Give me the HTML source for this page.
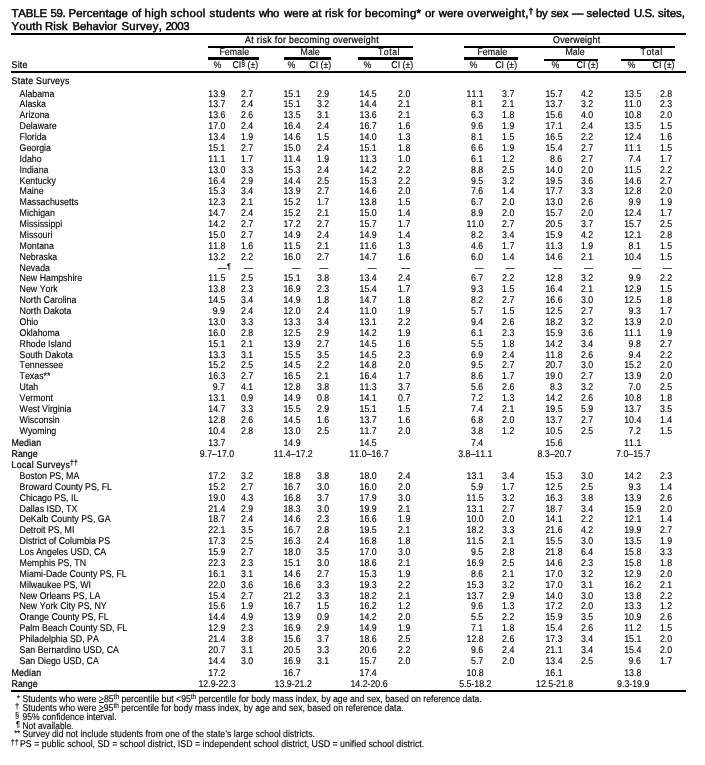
<!DOCTYPE html>
<html lang="en">
<head>
<meta charset="utf-8">
<title>TABLE 59. Percentage of high school students who were at risk for becoming or were overweight</title>
<style>
html,body{margin:0;padding:0;background:#fff}
body{position:relative;width:705px;height:765px;overflow:hidden;font-family:"Liberation Sans",Arial,Helvetica,sans-serif;font-size:9.8px;line-height:10px;color:#000;text-rendering:geometricPrecision;font-kerning:none;font-variant-ligatures:none}
span{position:absolute;left:0;white-space:nowrap;display:block;transform-origin:0 0;-webkit-text-stroke:0.12px #000}
.r{left:auto;right:0;transform-origin:100% 0}
.c{width:80px;text-align:center;transform-origin:50% 0}
i{position:absolute;display:block;background:#000}
.t{font-size:11.4px;line-height:12px;-webkit-text-stroke-width:0.45px}
.b{-webkit-text-stroke-width:0.22px}
sup{font-size:75%;line-height:0;vertical-align:baseline;position:relative;top:-0.42em}
sup.g{font-size:80%;top:-0.22em}
sup.k{font-size:84%;top:-0.24em}
sup.a{font-size:84%;top:-0.1em}
u{text-decoration:underline;text-underline-offset:0.3px;text-decoration-thickness:1.3px}
.t sup{font-size:72%;top:-0.42em}
</style>
</head>
<body>
<div role="heading" aria-level="1">
<span class="t" style="top:8px;transform:translate(11.40px,0) scaleX(1.0);letter-spacing:-0.07px">TABLE </span>
<span class="t" style="top:8px;transform:translate(50.60px,0) scaleX(1.0);letter-spacing:-0.40px">59. </span>
<span class="t" style="top:8px;transform:translate(68.60px,0) scaleX(1.0);letter-spacing:0.12px">Percentage </span>
<span class="t" style="top:8px;transform:translate(132.00px,0) scaleX(1.0);letter-spacing:-0.40px">of </span>
<span class="t" style="top:8px;transform:translate(144.60px,0) scaleX(1.0);letter-spacing:0.28px">high </span>
<span class="t" style="top:8px;transform:translate(170.60px,0) scaleX(1.0);letter-spacing:0.37px">school </span>
<span class="t" style="top:8px;transform:translate(209.60px,0) scaleX(1.0);letter-spacing:0.33px">students </span>
<span class="t" style="top:8px;transform:translate(259.06px,0) scaleX(1.0);letter-spacing:-0.29px">who </span>
<span class="t" style="top:8px;transform:translate(284.06px,0) scaleX(1.0);letter-spacing:0.07px">were </span>
<span class="t" style="top:8px;transform:translate(312.00px,0) scaleX(1.0);letter-spacing:-0.12px">at </span>
<span class="t" style="top:8px;transform:translate(325.00px,0) scaleX(1.0);letter-spacing:0.27px">risk </span>
<span class="t" style="top:8px;transform:translate(347.60px,0) scaleX(1.0);letter-spacing:0.36px">for </span>
<span class="t" style="top:8px;transform:translate(365.00px,0) scaleX(1.0);letter-spacing:0.27px">becoming* </span>
<span class="t" style="top:8px;transform:translate(425.00px,0) scaleX(1.0);letter-spacing:-0.15px">or </span>
<span class="t" style="top:8px;transform:translate(438.66px,0) scaleX(1.0);letter-spacing:0.07px">were </span>
<span class="t" style="top:8px;transform:translate(467.00px,0) scaleX(1.0);letter-spacing:0.31px">overweight,<sup>†</sup> </span>
<span class="t" style="top:8px;transform:translate(536.00px,0) scaleX(1.0);letter-spacing:-0.40px">by </span>
<span class="t" style="top:8px;transform:translate(551.00px,0) scaleX(1.0);letter-spacing:-0.16px">sex </span>
<span class="t" style="top:8px;transform:translate(572.00px,0) scaleX(1.0)">— </span>
<span class="t" style="top:8px;transform:translate(586.40px,0) scaleX(1.0);letter-spacing:0.16px">selected </span>
<span class="t" style="top:8px;transform:translate(634.00px,0) scaleX(1.0);letter-spacing:-0.40px">U.S. </span>
<span class="t" style="top:8px;transform:translate(658.00px,0) scaleX(1.0);letter-spacing:0.08px">sites, </span>
<span class="t" style="top:21px;transform:translate(11.40px,0) scaleX(1.0);letter-spacing:0.22px">Youth </span>
<span class="t" style="top:21px;transform:translate(45.00px,0) scaleX(1.0);letter-spacing:0.12px">Risk </span>
<span class="t" style="top:21px;transform:translate(72.40px,0) scaleX(1.0);letter-spacing:-0.05px">Behavior </span>
<span class="t" style="top:21px;transform:translate(121.40px,0) scaleX(1.0);letter-spacing:0.30px">Survey, </span>
<span class="t" style="top:21px;transform:translate(165.40px,0) scaleX(1.0);letter-spacing:-0.40px">2003 </span>
</div>
<div role="table">
<div role="rowgroup">
<i style="left:11.0px;top:33.0px;width:675.0px;height:2.0px"></i>
<i style="left:11.0px;top:71.0px;width:675.0px;height:2.0px"></i>
<i style="left:11.0px;top:690.0px;width:675.0px;height:2.0px"></i>
<i style="left:208.0px;top:46.0px;width:205.0px;height:2.0px"></i>
<i style="left:464.0px;top:46.0px;width:211.0px;height:2.0px"></i>
<i style="left:208.0px;top:57.0px;width:51.0px;height:3.0px"></i>
<i style="left:284.0px;top:57.0px;width:47.0px;height:3.0px"></i>
<i style="left:358.0px;top:57.0px;width:55.0px;height:3.0px"></i>
<i style="left:464.0px;top:57.0px;width:54.0px;height:3.0px"></i>
<i style="left:544.0px;top:59.0px;width:54.0px;height:2.0px"></i>
<i style="left:621.0px;top:59.0px;width:54.0px;height:2.0px"></i>
<span class="b" style="top:36px;transform:translate(245.00px,0) scaleX(0.898);letter-spacing:0.41px">At risk for becoming overweight</span>
<span class="b" style="top:36px;transform:translate(553.00px,0) scaleX(0.898);letter-spacing:0.33px">Overweight</span>
<span style="top:48px;transform:translate(219.40px,0) scaleX(0.898);letter-spacing:0.10px">Female</span>
<span style="top:48px;transform:translate(300.60px,0) scaleX(0.898)">Male</span>
<span style="top:48px;transform:translate(378.00px,0) scaleX(0.898);letter-spacing:0.55px">Total</span>
<span style="top:48px;transform:translate(477.40px,0) scaleX(0.898);letter-spacing:0.10px">Female</span>
<span style="top:48px;transform:translate(565.50px,0) scaleX(0.898)">Male</span>
<span style="top:48px;transform:translate(640.60px,0) scaleX(0.898);letter-spacing:0.55px">Total</span>
<span style="top:61px;transform:translate(213.60px,0) scaleX(0.898)">%</span>
<span style="top:61px;transform:translate(287.40px,0) scaleX(0.898)">%</span>
<span style="top:61px;transform:translate(363.40px,0) scaleX(0.898)">%</span>
<span style="top:61px;transform:translate(469.50px,0) scaleX(0.898)">%</span>
<span style="top:61px;transform:translate(551.40px,0) scaleX(0.898)">%</span>
<span style="top:61px;transform:translate(627.50px,0) scaleX(0.898)">%</span>
<span style="top:61px;transform:translate(232.40px,0) scaleX(0.898)">CI<sup class="g">§</sup> (±)</span>
<span style="top:61px;transform:translate(309.30px,0) scaleX(0.898)">CI (±)</span>
<span style="top:61px;transform:translate(391.30px,0) scaleX(0.898)">CI (±)</span>
<span style="top:61px;transform:translate(495.20px,0) scaleX(0.898)">CI (±)</span>
<span style="top:61px;transform:translate(576.60px,0) scaleX(0.898)">CI (±)</span>
<span style="top:61px;transform:translate(652.60px,0) scaleX(0.898)">CI (±)</span>
<span class="b" style="top:61px;transform:translate(11.60px,0) scaleX(0.898);letter-spacing:0.20px">Site</span>
</div>
<div role="row">
<span class="b" style="top:77px;transform:translate(11.60px,0) scaleX(0.898);letter-spacing:0.27px">State Surveys</span>
</div>
<div role="row">
<span style="top:90px;transform:translate(19.60px,0) scaleX(0.898)">Alabama</span>
<span class="r" style="top:90px;transform:translate(-479.70px,0) scaleX(0.898)">13.9</span>
<span class="r" style="top:90px;transform:translate(-451.40px,0) scaleX(0.898)">2.7</span>
<span class="r" style="top:90px;transform:translate(-404.50px,0) scaleX(0.898)">15.1</span>
<span class="r" style="top:90px;transform:translate(-375.40px,0) scaleX(0.898)">2.9</span>
<span class="r" style="top:90px;transform:translate(-328.40px,0) scaleX(0.898)">14.5</span>
<span class="r" style="top:90px;transform:translate(-294.30px,0) scaleX(0.898)">2.0</span>
<span class="r" style="top:90px;transform:translate(-221.40px,0) scaleX(0.898)">11.1</span>
<span class="r" style="top:90px;transform:translate(-190.30px,0) scaleX(0.898)">3.7</span>
<span class="r" style="top:90px;transform:translate(-142.50px,0) scaleX(0.898)">15.7</span>
<span class="r" style="top:90px;transform:translate(-111.50px,0) scaleX(0.898)">4.2</span>
<span class="r" style="top:90px;transform:translate(-63.80px,0) scaleX(0.898)">13.5</span>
<span class="r" style="top:90px;transform:translate(-32.50px,0) scaleX(0.898)">2.8</span>
</div>
<div role="row">
<span style="top:100px;transform:translate(19.60px,0) scaleX(0.898)">Alaska</span>
<span class="r" style="top:100px;transform:translate(-479.70px,0) scaleX(0.898)">13.7</span>
<span class="r" style="top:100px;transform:translate(-451.40px,0) scaleX(0.898)">2.4</span>
<span class="r" style="top:100px;transform:translate(-404.50px,0) scaleX(0.898)">15.1</span>
<span class="r" style="top:100px;transform:translate(-375.40px,0) scaleX(0.898)">3.2</span>
<span class="r" style="top:100px;transform:translate(-328.40px,0) scaleX(0.898)">14.4</span>
<span class="r" style="top:100px;transform:translate(-294.30px,0) scaleX(0.898)">2.1</span>
<span class="r" style="top:100px;transform:translate(-221.40px,0) scaleX(0.898)">8.1</span>
<span class="r" style="top:100px;transform:translate(-190.30px,0) scaleX(0.898)">2.1</span>
<span class="r" style="top:100px;transform:translate(-142.50px,0) scaleX(0.898)">13.7</span>
<span class="r" style="top:100px;transform:translate(-111.50px,0) scaleX(0.898)">3.2</span>
<span class="r" style="top:100px;transform:translate(-63.80px,0) scaleX(0.898)">11.0</span>
<span class="r" style="top:100px;transform:translate(-32.50px,0) scaleX(0.898)">2.3</span>
</div>
<div role="row">
<span style="top:111px;transform:translate(19.60px,0) scaleX(0.898)">Arizona</span>
<span class="r" style="top:111px;transform:translate(-479.70px,0) scaleX(0.898)">13.6</span>
<span class="r" style="top:111px;transform:translate(-451.40px,0) scaleX(0.898)">2.6</span>
<span class="r" style="top:111px;transform:translate(-404.50px,0) scaleX(0.898)">13.5</span>
<span class="r" style="top:111px;transform:translate(-375.40px,0) scaleX(0.898)">3.1</span>
<span class="r" style="top:111px;transform:translate(-328.40px,0) scaleX(0.898)">13.6</span>
<span class="r" style="top:111px;transform:translate(-294.30px,0) scaleX(0.898)">2.1</span>
<span class="r" style="top:111px;transform:translate(-221.40px,0) scaleX(0.898)">6.3</span>
<span class="r" style="top:111px;transform:translate(-190.30px,0) scaleX(0.898)">1.8</span>
<span class="r" style="top:111px;transform:translate(-142.50px,0) scaleX(0.898)">15.6</span>
<span class="r" style="top:111px;transform:translate(-111.50px,0) scaleX(0.898)">4.0</span>
<span class="r" style="top:111px;transform:translate(-63.80px,0) scaleX(0.898)">10.8</span>
<span class="r" style="top:111px;transform:translate(-32.50px,0) scaleX(0.898)">2.0</span>
</div>
<div role="row">
<span style="top:122px;transform:translate(19.60px,0) scaleX(0.898)">Delaware</span>
<span class="r" style="top:122px;transform:translate(-479.70px,0) scaleX(0.898)">17.0</span>
<span class="r" style="top:122px;transform:translate(-451.40px,0) scaleX(0.898)">2.4</span>
<span class="r" style="top:122px;transform:translate(-404.50px,0) scaleX(0.898)">16.4</span>
<span class="r" style="top:122px;transform:translate(-375.40px,0) scaleX(0.898)">2.4</span>
<span class="r" style="top:122px;transform:translate(-328.40px,0) scaleX(0.898)">16.7</span>
<span class="r" style="top:122px;transform:translate(-294.30px,0) scaleX(0.898)">1.6</span>
<span class="r" style="top:122px;transform:translate(-221.40px,0) scaleX(0.898)">9.6</span>
<span class="r" style="top:122px;transform:translate(-190.30px,0) scaleX(0.898)">1.9</span>
<span class="r" style="top:122px;transform:translate(-142.50px,0) scaleX(0.898)">17.1</span>
<span class="r" style="top:122px;transform:translate(-111.50px,0) scaleX(0.898)">2.4</span>
<span class="r" style="top:122px;transform:translate(-63.80px,0) scaleX(0.898)">13.5</span>
<span class="r" style="top:122px;transform:translate(-32.50px,0) scaleX(0.898)">1.5</span>
</div>
<div role="row">
<span style="top:133px;transform:translate(19.60px,0) scaleX(0.898)">Florida</span>
<span class="r" style="top:133px;transform:translate(-479.70px,0) scaleX(0.898)">13.4</span>
<span class="r" style="top:133px;transform:translate(-451.40px,0) scaleX(0.898)">1.9</span>
<span class="r" style="top:133px;transform:translate(-404.50px,0) scaleX(0.898)">14.6</span>
<span class="r" style="top:133px;transform:translate(-375.40px,0) scaleX(0.898)">1.5</span>
<span class="r" style="top:133px;transform:translate(-328.40px,0) scaleX(0.898)">14.0</span>
<span class="r" style="top:133px;transform:translate(-294.30px,0) scaleX(0.898)">1.3</span>
<span class="r" style="top:133px;transform:translate(-221.40px,0) scaleX(0.898)">8.1</span>
<span class="r" style="top:133px;transform:translate(-190.30px,0) scaleX(0.898)">1.5</span>
<span class="r" style="top:133px;transform:translate(-142.50px,0) scaleX(0.898)">16.5</span>
<span class="r" style="top:133px;transform:translate(-111.50px,0) scaleX(0.898)">2.2</span>
<span class="r" style="top:133px;transform:translate(-63.80px,0) scaleX(0.898)">12.4</span>
<span class="r" style="top:133px;transform:translate(-32.50px,0) scaleX(0.898)">1.6</span>
</div>
<div role="row">
<span style="top:144px;transform:translate(19.60px,0) scaleX(0.898)">Georgia</span>
<span class="r" style="top:144px;transform:translate(-479.70px,0) scaleX(0.898)">15.1</span>
<span class="r" style="top:144px;transform:translate(-451.40px,0) scaleX(0.898)">2.7</span>
<span class="r" style="top:144px;transform:translate(-404.50px,0) scaleX(0.898)">15.0</span>
<span class="r" style="top:144px;transform:translate(-375.40px,0) scaleX(0.898)">2.4</span>
<span class="r" style="top:144px;transform:translate(-328.40px,0) scaleX(0.898)">15.1</span>
<span class="r" style="top:144px;transform:translate(-294.30px,0) scaleX(0.898)">1.8</span>
<span class="r" style="top:144px;transform:translate(-221.40px,0) scaleX(0.898)">6.6</span>
<span class="r" style="top:144px;transform:translate(-190.30px,0) scaleX(0.898)">1.9</span>
<span class="r" style="top:144px;transform:translate(-142.50px,0) scaleX(0.898)">15.4</span>
<span class="r" style="top:144px;transform:translate(-111.50px,0) scaleX(0.898)">2.7</span>
<span class="r" style="top:144px;transform:translate(-63.80px,0) scaleX(0.898)">11.1</span>
<span class="r" style="top:144px;transform:translate(-32.50px,0) scaleX(0.898)">1.5</span>
</div>
<div role="row">
<span style="top:155px;transform:translate(19.60px,0) scaleX(0.898)">Idaho</span>
<span class="r" style="top:155px;transform:translate(-479.70px,0) scaleX(0.898)">11.1</span>
<span class="r" style="top:155px;transform:translate(-451.40px,0) scaleX(0.898)">1.7</span>
<span class="r" style="top:155px;transform:translate(-404.50px,0) scaleX(0.898)">11.4</span>
<span class="r" style="top:155px;transform:translate(-375.40px,0) scaleX(0.898)">1.9</span>
<span class="r" style="top:155px;transform:translate(-328.40px,0) scaleX(0.898)">11.3</span>
<span class="r" style="top:155px;transform:translate(-294.30px,0) scaleX(0.898)">1.0</span>
<span class="r" style="top:155px;transform:translate(-221.40px,0) scaleX(0.898)">6.1</span>
<span class="r" style="top:155px;transform:translate(-190.30px,0) scaleX(0.898)">1.2</span>
<span class="r" style="top:155px;transform:translate(-142.50px,0) scaleX(0.898)">8.6</span>
<span class="r" style="top:155px;transform:translate(-111.50px,0) scaleX(0.898)">2.7</span>
<span class="r" style="top:155px;transform:translate(-63.80px,0) scaleX(0.898)">7.4</span>
<span class="r" style="top:155px;transform:translate(-32.50px,0) scaleX(0.898)">1.7</span>
</div>
<div role="row">
<span style="top:166px;transform:translate(19.60px,0) scaleX(0.898)">Indiana</span>
<span class="r" style="top:166px;transform:translate(-479.70px,0) scaleX(0.898)">13.0</span>
<span class="r" style="top:166px;transform:translate(-451.40px,0) scaleX(0.898)">3.3</span>
<span class="r" style="top:166px;transform:translate(-404.50px,0) scaleX(0.898)">15.3</span>
<span class="r" style="top:166px;transform:translate(-375.40px,0) scaleX(0.898)">2.4</span>
<span class="r" style="top:166px;transform:translate(-328.40px,0) scaleX(0.898)">14.2</span>
<span class="r" style="top:166px;transform:translate(-294.30px,0) scaleX(0.898)">2.2</span>
<span class="r" style="top:166px;transform:translate(-221.40px,0) scaleX(0.898)">8.8</span>
<span class="r" style="top:166px;transform:translate(-190.30px,0) scaleX(0.898)">2.5</span>
<span class="r" style="top:166px;transform:translate(-142.50px,0) scaleX(0.898)">14.0</span>
<span class="r" style="top:166px;transform:translate(-111.50px,0) scaleX(0.898)">2.0</span>
<span class="r" style="top:166px;transform:translate(-63.80px,0) scaleX(0.898)">11.5</span>
<span class="r" style="top:166px;transform:translate(-32.50px,0) scaleX(0.898)">2.2</span>
</div>
<div role="row">
<span style="top:177px;transform:translate(19.60px,0) scaleX(0.898)">Kentucky</span>
<span class="r" style="top:177px;transform:translate(-479.70px,0) scaleX(0.898)">16.4</span>
<span class="r" style="top:177px;transform:translate(-451.40px,0) scaleX(0.898)">2.9</span>
<span class="r" style="top:177px;transform:translate(-404.50px,0) scaleX(0.898)">14.4</span>
<span class="r" style="top:177px;transform:translate(-375.40px,0) scaleX(0.898)">2.5</span>
<span class="r" style="top:177px;transform:translate(-328.40px,0) scaleX(0.898)">15.3</span>
<span class="r" style="top:177px;transform:translate(-294.30px,0) scaleX(0.898)">2.2</span>
<span class="r" style="top:177px;transform:translate(-221.40px,0) scaleX(0.898)">9.5</span>
<span class="r" style="top:177px;transform:translate(-190.30px,0) scaleX(0.898)">3.2</span>
<span class="r" style="top:177px;transform:translate(-142.50px,0) scaleX(0.898)">19.5</span>
<span class="r" style="top:177px;transform:translate(-111.50px,0) scaleX(0.898)">3.6</span>
<span class="r" style="top:177px;transform:translate(-63.80px,0) scaleX(0.898)">14.6</span>
<span class="r" style="top:177px;transform:translate(-32.50px,0) scaleX(0.898)">2.7</span>
</div>
<div role="row">
<span style="top:187px;transform:translate(19.60px,0) scaleX(0.898)">Maine</span>
<span class="r" style="top:187px;transform:translate(-479.70px,0) scaleX(0.898)">15.3</span>
<span class="r" style="top:187px;transform:translate(-451.40px,0) scaleX(0.898)">3.4</span>
<span class="r" style="top:187px;transform:translate(-404.50px,0) scaleX(0.898)">13.9</span>
<span class="r" style="top:187px;transform:translate(-375.40px,0) scaleX(0.898)">2.7</span>
<span class="r" style="top:187px;transform:translate(-328.40px,0) scaleX(0.898)">14.6</span>
<span class="r" style="top:187px;transform:translate(-294.30px,0) scaleX(0.898)">2.0</span>
<span class="r" style="top:187px;transform:translate(-221.40px,0) scaleX(0.898)">7.6</span>
<span class="r" style="top:187px;transform:translate(-190.30px,0) scaleX(0.898)">1.4</span>
<span class="r" style="top:187px;transform:translate(-142.50px,0) scaleX(0.898)">17.7</span>
<span class="r" style="top:187px;transform:translate(-111.50px,0) scaleX(0.898)">3.3</span>
<span class="r" style="top:187px;transform:translate(-63.80px,0) scaleX(0.898)">12.8</span>
<span class="r" style="top:187px;transform:translate(-32.50px,0) scaleX(0.898)">2.0</span>
</div>
<div role="row">
<span style="top:198px;transform:translate(19.60px,0) scaleX(0.898)">Massachusetts</span>
<span class="r" style="top:198px;transform:translate(-479.70px,0) scaleX(0.898)">12.3</span>
<span class="r" style="top:198px;transform:translate(-451.40px,0) scaleX(0.898)">2.1</span>
<span class="r" style="top:198px;transform:translate(-404.50px,0) scaleX(0.898)">15.2</span>
<span class="r" style="top:198px;transform:translate(-375.40px,0) scaleX(0.898)">1.7</span>
<span class="r" style="top:198px;transform:translate(-328.40px,0) scaleX(0.898)">13.8</span>
<span class="r" style="top:198px;transform:translate(-294.30px,0) scaleX(0.898)">1.5</span>
<span class="r" style="top:198px;transform:translate(-221.40px,0) scaleX(0.898)">6.7</span>
<span class="r" style="top:198px;transform:translate(-190.30px,0) scaleX(0.898)">2.0</span>
<span class="r" style="top:198px;transform:translate(-142.50px,0) scaleX(0.898)">13.0</span>
<span class="r" style="top:198px;transform:translate(-111.50px,0) scaleX(0.898)">2.6</span>
<span class="r" style="top:198px;transform:translate(-63.80px,0) scaleX(0.898)">9.9</span>
<span class="r" style="top:198px;transform:translate(-32.50px,0) scaleX(0.898)">1.9</span>
</div>
<div role="row">
<span style="top:209px;transform:translate(19.60px,0) scaleX(0.898)">Michigan</span>
<span class="r" style="top:209px;transform:translate(-479.70px,0) scaleX(0.898)">14.7</span>
<span class="r" style="top:209px;transform:translate(-451.40px,0) scaleX(0.898)">2.4</span>
<span class="r" style="top:209px;transform:translate(-404.50px,0) scaleX(0.898)">15.2</span>
<span class="r" style="top:209px;transform:translate(-375.40px,0) scaleX(0.898)">2.1</span>
<span class="r" style="top:209px;transform:translate(-328.40px,0) scaleX(0.898)">15.0</span>
<span class="r" style="top:209px;transform:translate(-294.30px,0) scaleX(0.898)">1.4</span>
<span class="r" style="top:209px;transform:translate(-221.40px,0) scaleX(0.898)">8.9</span>
<span class="r" style="top:209px;transform:translate(-190.30px,0) scaleX(0.898)">2.0</span>
<span class="r" style="top:209px;transform:translate(-142.50px,0) scaleX(0.898)">15.7</span>
<span class="r" style="top:209px;transform:translate(-111.50px,0) scaleX(0.898)">2.0</span>
<span class="r" style="top:209px;transform:translate(-63.80px,0) scaleX(0.898)">12.4</span>
<span class="r" style="top:209px;transform:translate(-32.50px,0) scaleX(0.898)">1.7</span>
</div>
<div role="row">
<span style="top:220px;transform:translate(19.60px,0) scaleX(0.898)">Mississippi</span>
<span class="r" style="top:220px;transform:translate(-479.70px,0) scaleX(0.898)">14.2</span>
<span class="r" style="top:220px;transform:translate(-451.40px,0) scaleX(0.898)">2.7</span>
<span class="r" style="top:220px;transform:translate(-404.50px,0) scaleX(0.898)">17.2</span>
<span class="r" style="top:220px;transform:translate(-375.40px,0) scaleX(0.898)">2.7</span>
<span class="r" style="top:220px;transform:translate(-328.40px,0) scaleX(0.898)">15.7</span>
<span class="r" style="top:220px;transform:translate(-294.30px,0) scaleX(0.898)">1.7</span>
<span class="r" style="top:220px;transform:translate(-221.40px,0) scaleX(0.898)">11.0</span>
<span class="r" style="top:220px;transform:translate(-190.30px,0) scaleX(0.898)">2.7</span>
<span class="r" style="top:220px;transform:translate(-142.50px,0) scaleX(0.898)">20.5</span>
<span class="r" style="top:220px;transform:translate(-111.50px,0) scaleX(0.898)">3.7</span>
<span class="r" style="top:220px;transform:translate(-63.80px,0) scaleX(0.898)">15.7</span>
<span class="r" style="top:220px;transform:translate(-32.50px,0) scaleX(0.898)">2.5</span>
</div>
<div role="row">
<span style="top:231px;transform:translate(19.60px,0) scaleX(0.898)">Missouri</span>
<span class="r" style="top:231px;transform:translate(-479.70px,0) scaleX(0.898)">15.0</span>
<span class="r" style="top:231px;transform:translate(-451.40px,0) scaleX(0.898)">2.7</span>
<span class="r" style="top:231px;transform:translate(-404.50px,0) scaleX(0.898)">14.9</span>
<span class="r" style="top:231px;transform:translate(-375.40px,0) scaleX(0.898)">2.4</span>
<span class="r" style="top:231px;transform:translate(-328.40px,0) scaleX(0.898)">14.9</span>
<span class="r" style="top:231px;transform:translate(-294.30px,0) scaleX(0.898)">1.4</span>
<span class="r" style="top:231px;transform:translate(-221.40px,0) scaleX(0.898)">8.2</span>
<span class="r" style="top:231px;transform:translate(-190.30px,0) scaleX(0.898)">3.4</span>
<span class="r" style="top:231px;transform:translate(-142.50px,0) scaleX(0.898)">15.9</span>
<span class="r" style="top:231px;transform:translate(-111.50px,0) scaleX(0.898)">4.2</span>
<span class="r" style="top:231px;transform:translate(-63.80px,0) scaleX(0.898)">12.1</span>
<span class="r" style="top:231px;transform:translate(-32.50px,0) scaleX(0.898)">2.8</span>
</div>
<div role="row">
<span style="top:242px;transform:translate(19.60px,0) scaleX(0.898)">Montana</span>
<span class="r" style="top:242px;transform:translate(-479.70px,0) scaleX(0.898)">11.8</span>
<span class="r" style="top:242px;transform:translate(-451.40px,0) scaleX(0.898)">1.6</span>
<span class="r" style="top:242px;transform:translate(-404.50px,0) scaleX(0.898)">11.5</span>
<span class="r" style="top:242px;transform:translate(-375.40px,0) scaleX(0.898)">2.1</span>
<span class="r" style="top:242px;transform:translate(-328.40px,0) scaleX(0.898)">11.6</span>
<span class="r" style="top:242px;transform:translate(-294.30px,0) scaleX(0.898)">1.3</span>
<span class="r" style="top:242px;transform:translate(-221.40px,0) scaleX(0.898)">4.6</span>
<span class="r" style="top:242px;transform:translate(-190.30px,0) scaleX(0.898)">1.7</span>
<span class="r" style="top:242px;transform:translate(-142.50px,0) scaleX(0.898)">11.3</span>
<span class="r" style="top:242px;transform:translate(-111.50px,0) scaleX(0.898)">1.9</span>
<span class="r" style="top:242px;transform:translate(-63.80px,0) scaleX(0.898)">8.1</span>
<span class="r" style="top:242px;transform:translate(-32.50px,0) scaleX(0.898)">1.5</span>
</div>
<div role="row">
<span style="top:253px;transform:translate(19.60px,0) scaleX(0.898)">Nebraska</span>
<span class="r" style="top:253px;transform:translate(-479.70px,0) scaleX(0.898)">13.2</span>
<span class="r" style="top:253px;transform:translate(-451.40px,0) scaleX(0.898)">2.2</span>
<span class="r" style="top:253px;transform:translate(-404.50px,0) scaleX(0.898)">16.0</span>
<span class="r" style="top:253px;transform:translate(-375.40px,0) scaleX(0.898)">2.7</span>
<span class="r" style="top:253px;transform:translate(-328.40px,0) scaleX(0.898)">14.7</span>
<span class="r" style="top:253px;transform:translate(-294.30px,0) scaleX(0.898)">1.6</span>
<span class="r" style="top:253px;transform:translate(-221.40px,0) scaleX(0.898)">6.0</span>
<span class="r" style="top:253px;transform:translate(-190.30px,0) scaleX(0.898)">1.4</span>
<span class="r" style="top:253px;transform:translate(-142.50px,0) scaleX(0.898)">14.6</span>
<span class="r" style="top:253px;transform:translate(-111.50px,0) scaleX(0.898)">2.1</span>
<span class="r" style="top:253px;transform:translate(-63.80px,0) scaleX(0.898)">10.4</span>
<span class="r" style="top:253px;transform:translate(-32.50px,0) scaleX(0.898)">1.5</span>
</div>
<div role="row">
<span style="top:264px;transform:translate(19.60px,0) scaleX(0.898)">Nevada</span>
<span class="r" style="top:264px;transform:translate(-478.30px,0) scaleX(0.898)">—</span>
<span style="top:264px;transform:translate(227.00px,0) scaleX(0.898)"><sup class="g">¶</sup></span>
<span class="r" style="top:264px;transform:translate(-452.10px,0) scaleX(0.898)">—</span>
<span class="r" style="top:264px;transform:translate(-404.20px,0) scaleX(0.898)">—</span>
<span class="r" style="top:264px;transform:translate(-376.40px,0) scaleX(0.898)">—</span>
<span class="r" style="top:264px;transform:translate(-328.30px,0) scaleX(0.898)">—</span>
<span class="r" style="top:264px;transform:translate(-295.00px,0) scaleX(0.898)">—</span>
<span class="r" style="top:264px;transform:translate(-221.20px,0) scaleX(0.898)">—</span>
<span class="r" style="top:264px;transform:translate(-190.20px,0) scaleX(0.898)">—</span>
<span class="r" style="top:264px;transform:translate(-143.00px,0) scaleX(0.898)">—</span>
<span class="r" style="top:264px;transform:translate(-112.00px,0) scaleX(0.898)">—</span>
<span class="r" style="top:264px;transform:translate(-64.00px,0) scaleX(0.898)">—</span>
<span class="r" style="top:264px;transform:translate(-33.00px,0) scaleX(0.898)">—</span>
</div>
<div role="row">
<span style="top:274px;transform:translate(19.60px,0) scaleX(0.898)">New Hampshire</span>
<span class="r" style="top:274px;transform:translate(-479.70px,0) scaleX(0.898)">11.5</span>
<span class="r" style="top:274px;transform:translate(-451.40px,0) scaleX(0.898)">2.5</span>
<span class="r" style="top:274px;transform:translate(-404.50px,0) scaleX(0.898)">15.1</span>
<span class="r" style="top:274px;transform:translate(-375.40px,0) scaleX(0.898)">3.8</span>
<span class="r" style="top:274px;transform:translate(-328.40px,0) scaleX(0.898)">13.4</span>
<span class="r" style="top:274px;transform:translate(-294.30px,0) scaleX(0.898)">2.4</span>
<span class="r" style="top:274px;transform:translate(-221.40px,0) scaleX(0.898)">6.7</span>
<span class="r" style="top:274px;transform:translate(-190.30px,0) scaleX(0.898)">2.2</span>
<span class="r" style="top:274px;transform:translate(-142.50px,0) scaleX(0.898)">12.8</span>
<span class="r" style="top:274px;transform:translate(-111.50px,0) scaleX(0.898)">3.2</span>
<span class="r" style="top:274px;transform:translate(-63.80px,0) scaleX(0.898)">9.9</span>
<span class="r" style="top:274px;transform:translate(-32.50px,0) scaleX(0.898)">2.2</span>
</div>
<div role="row">
<span style="top:285px;transform:translate(19.60px,0) scaleX(0.898)">New York</span>
<span class="r" style="top:285px;transform:translate(-479.70px,0) scaleX(0.898)">13.8</span>
<span class="r" style="top:285px;transform:translate(-451.40px,0) scaleX(0.898)">2.3</span>
<span class="r" style="top:285px;transform:translate(-404.50px,0) scaleX(0.898)">16.9</span>
<span class="r" style="top:285px;transform:translate(-375.40px,0) scaleX(0.898)">2.3</span>
<span class="r" style="top:285px;transform:translate(-328.40px,0) scaleX(0.898)">15.4</span>
<span class="r" style="top:285px;transform:translate(-294.30px,0) scaleX(0.898)">1.7</span>
<span class="r" style="top:285px;transform:translate(-221.40px,0) scaleX(0.898)">9.3</span>
<span class="r" style="top:285px;transform:translate(-190.30px,0) scaleX(0.898)">1.5</span>
<span class="r" style="top:285px;transform:translate(-142.50px,0) scaleX(0.898)">16.4</span>
<span class="r" style="top:285px;transform:translate(-111.50px,0) scaleX(0.898)">2.1</span>
<span class="r" style="top:285px;transform:translate(-63.80px,0) scaleX(0.898)">12.9</span>
<span class="r" style="top:285px;transform:translate(-32.50px,0) scaleX(0.898)">1.5</span>
</div>
<div role="row">
<span style="top:296px;transform:translate(19.60px,0) scaleX(0.898)">North Carolina</span>
<span class="r" style="top:296px;transform:translate(-479.70px,0) scaleX(0.898)">14.5</span>
<span class="r" style="top:296px;transform:translate(-451.40px,0) scaleX(0.898)">3.4</span>
<span class="r" style="top:296px;transform:translate(-404.50px,0) scaleX(0.898)">14.9</span>
<span class="r" style="top:296px;transform:translate(-375.40px,0) scaleX(0.898)">1.8</span>
<span class="r" style="top:296px;transform:translate(-328.40px,0) scaleX(0.898)">14.7</span>
<span class="r" style="top:296px;transform:translate(-294.30px,0) scaleX(0.898)">1.8</span>
<span class="r" style="top:296px;transform:translate(-221.40px,0) scaleX(0.898)">8.2</span>
<span class="r" style="top:296px;transform:translate(-190.30px,0) scaleX(0.898)">2.7</span>
<span class="r" style="top:296px;transform:translate(-142.50px,0) scaleX(0.898)">16.6</span>
<span class="r" style="top:296px;transform:translate(-111.50px,0) scaleX(0.898)">3.0</span>
<span class="r" style="top:296px;transform:translate(-63.80px,0) scaleX(0.898)">12.5</span>
<span class="r" style="top:296px;transform:translate(-32.50px,0) scaleX(0.898)">1.8</span>
</div>
<div role="row">
<span style="top:307px;transform:translate(19.60px,0) scaleX(0.898)">North Dakota</span>
<span class="r" style="top:307px;transform:translate(-479.70px,0) scaleX(0.898)">9.9</span>
<span class="r" style="top:307px;transform:translate(-451.40px,0) scaleX(0.898)">2.4</span>
<span class="r" style="top:307px;transform:translate(-404.50px,0) scaleX(0.898)">12.0</span>
<span class="r" style="top:307px;transform:translate(-375.40px,0) scaleX(0.898)">2.4</span>
<span class="r" style="top:307px;transform:translate(-328.40px,0) scaleX(0.898)">11.0</span>
<span class="r" style="top:307px;transform:translate(-294.30px,0) scaleX(0.898)">1.9</span>
<span class="r" style="top:307px;transform:translate(-221.40px,0) scaleX(0.898)">5.7</span>
<span class="r" style="top:307px;transform:translate(-190.30px,0) scaleX(0.898)">1.5</span>
<span class="r" style="top:307px;transform:translate(-142.50px,0) scaleX(0.898)">12.5</span>
<span class="r" style="top:307px;transform:translate(-111.50px,0) scaleX(0.898)">2.7</span>
<span class="r" style="top:307px;transform:translate(-63.80px,0) scaleX(0.898)">9.3</span>
<span class="r" style="top:307px;transform:translate(-32.50px,0) scaleX(0.898)">1.7</span>
</div>
<div role="row">
<span style="top:318px;transform:translate(19.60px,0) scaleX(0.898)">Ohio</span>
<span class="r" style="top:318px;transform:translate(-479.70px,0) scaleX(0.898)">13.0</span>
<span class="r" style="top:318px;transform:translate(-451.40px,0) scaleX(0.898)">3.3</span>
<span class="r" style="top:318px;transform:translate(-404.50px,0) scaleX(0.898)">13.3</span>
<span class="r" style="top:318px;transform:translate(-375.40px,0) scaleX(0.898)">3.4</span>
<span class="r" style="top:318px;transform:translate(-328.40px,0) scaleX(0.898)">13.1</span>
<span class="r" style="top:318px;transform:translate(-294.30px,0) scaleX(0.898)">2.2</span>
<span class="r" style="top:318px;transform:translate(-221.40px,0) scaleX(0.898)">9.4</span>
<span class="r" style="top:318px;transform:translate(-190.30px,0) scaleX(0.898)">2.6</span>
<span class="r" style="top:318px;transform:translate(-142.50px,0) scaleX(0.898)">18.2</span>
<span class="r" style="top:318px;transform:translate(-111.50px,0) scaleX(0.898)">3.2</span>
<span class="r" style="top:318px;transform:translate(-63.80px,0) scaleX(0.898)">13.9</span>
<span class="r" style="top:318px;transform:translate(-32.50px,0) scaleX(0.898)">2.0</span>
</div>
<div role="row">
<span style="top:329px;transform:translate(19.60px,0) scaleX(0.898)">Oklahoma</span>
<span class="r" style="top:329px;transform:translate(-479.70px,0) scaleX(0.898)">16.0</span>
<span class="r" style="top:329px;transform:translate(-451.40px,0) scaleX(0.898)">2.8</span>
<span class="r" style="top:329px;transform:translate(-404.50px,0) scaleX(0.898)">12.5</span>
<span class="r" style="top:329px;transform:translate(-375.40px,0) scaleX(0.898)">2.9</span>
<span class="r" style="top:329px;transform:translate(-328.40px,0) scaleX(0.898)">14.2</span>
<span class="r" style="top:329px;transform:translate(-294.30px,0) scaleX(0.898)">1.9</span>
<span class="r" style="top:329px;transform:translate(-221.40px,0) scaleX(0.898)">6.1</span>
<span class="r" style="top:329px;transform:translate(-190.30px,0) scaleX(0.898)">2.3</span>
<span class="r" style="top:329px;transform:translate(-142.50px,0) scaleX(0.898)">15.9</span>
<span class="r" style="top:329px;transform:translate(-111.50px,0) scaleX(0.898)">3.6</span>
<span class="r" style="top:329px;transform:translate(-63.80px,0) scaleX(0.898)">11.1</span>
<span class="r" style="top:329px;transform:translate(-32.50px,0) scaleX(0.898)">1.9</span>
</div>
<div role="row">
<span style="top:340px;transform:translate(19.60px,0) scaleX(0.898)">Rhode Island</span>
<span class="r" style="top:340px;transform:translate(-479.70px,0) scaleX(0.898)">15.1</span>
<span class="r" style="top:340px;transform:translate(-451.40px,0) scaleX(0.898)">2.1</span>
<span class="r" style="top:340px;transform:translate(-404.50px,0) scaleX(0.898)">13.9</span>
<span class="r" style="top:340px;transform:translate(-375.40px,0) scaleX(0.898)">2.7</span>
<span class="r" style="top:340px;transform:translate(-328.40px,0) scaleX(0.898)">14.5</span>
<span class="r" style="top:340px;transform:translate(-294.30px,0) scaleX(0.898)">1.6</span>
<span class="r" style="top:340px;transform:translate(-221.40px,0) scaleX(0.898)">5.5</span>
<span class="r" style="top:340px;transform:translate(-190.30px,0) scaleX(0.898)">1.8</span>
<span class="r" style="top:340px;transform:translate(-142.50px,0) scaleX(0.898)">14.2</span>
<span class="r" style="top:340px;transform:translate(-111.50px,0) scaleX(0.898)">3.4</span>
<span class="r" style="top:340px;transform:translate(-63.80px,0) scaleX(0.898)">9.8</span>
<span class="r" style="top:340px;transform:translate(-32.50px,0) scaleX(0.898)">2.7</span>
</div>
<div role="row">
<span style="top:351px;transform:translate(19.60px,0) scaleX(0.898)">South Dakota</span>
<span class="r" style="top:351px;transform:translate(-479.70px,0) scaleX(0.898)">13.3</span>
<span class="r" style="top:351px;transform:translate(-451.40px,0) scaleX(0.898)">3.1</span>
<span class="r" style="top:351px;transform:translate(-404.50px,0) scaleX(0.898)">15.5</span>
<span class="r" style="top:351px;transform:translate(-375.40px,0) scaleX(0.898)">3.5</span>
<span class="r" style="top:351px;transform:translate(-328.40px,0) scaleX(0.898)">14.5</span>
<span class="r" style="top:351px;transform:translate(-294.30px,0) scaleX(0.898)">2.3</span>
<span class="r" style="top:351px;transform:translate(-221.40px,0) scaleX(0.898)">6.9</span>
<span class="r" style="top:351px;transform:translate(-190.30px,0) scaleX(0.898)">2.4</span>
<span class="r" style="top:351px;transform:translate(-142.50px,0) scaleX(0.898)">11.8</span>
<span class="r" style="top:351px;transform:translate(-111.50px,0) scaleX(0.898)">2.6</span>
<span class="r" style="top:351px;transform:translate(-63.80px,0) scaleX(0.898)">9.4</span>
<span class="r" style="top:351px;transform:translate(-32.50px,0) scaleX(0.898)">2.2</span>
</div>
<div role="row">
<span style="top:361px;transform:translate(19.60px,0) scaleX(0.898)">Tennessee</span>
<span class="r" style="top:361px;transform:translate(-479.70px,0) scaleX(0.898)">15.2</span>
<span class="r" style="top:361px;transform:translate(-451.40px,0) scaleX(0.898)">2.5</span>
<span class="r" style="top:361px;transform:translate(-404.50px,0) scaleX(0.898)">14.5</span>
<span class="r" style="top:361px;transform:translate(-375.40px,0) scaleX(0.898)">2.2</span>
<span class="r" style="top:361px;transform:translate(-328.40px,0) scaleX(0.898)">14.8</span>
<span class="r" style="top:361px;transform:translate(-294.30px,0) scaleX(0.898)">2.0</span>
<span class="r" style="top:361px;transform:translate(-221.40px,0) scaleX(0.898)">9.5</span>
<span class="r" style="top:361px;transform:translate(-190.30px,0) scaleX(0.898)">2.7</span>
<span class="r" style="top:361px;transform:translate(-142.50px,0) scaleX(0.898)">20.7</span>
<span class="r" style="top:361px;transform:translate(-111.50px,0) scaleX(0.898)">3.0</span>
<span class="r" style="top:361px;transform:translate(-63.80px,0) scaleX(0.898)">15.2</span>
<span class="r" style="top:361px;transform:translate(-32.50px,0) scaleX(0.898)">2.0</span>
</div>
<div role="row">
<span style="top:372px;transform:translate(19.60px,0) scaleX(0.898)">Texas**</span>
<span class="r" style="top:372px;transform:translate(-479.70px,0) scaleX(0.898)">16.3</span>
<span class="r" style="top:372px;transform:translate(-451.40px,0) scaleX(0.898)">2.7</span>
<span class="r" style="top:372px;transform:translate(-404.50px,0) scaleX(0.898)">16.5</span>
<span class="r" style="top:372px;transform:translate(-375.40px,0) scaleX(0.898)">2.1</span>
<span class="r" style="top:372px;transform:translate(-328.40px,0) scaleX(0.898)">16.4</span>
<span class="r" style="top:372px;transform:translate(-294.30px,0) scaleX(0.898)">1.7</span>
<span class="r" style="top:372px;transform:translate(-221.40px,0) scaleX(0.898)">8.6</span>
<span class="r" style="top:372px;transform:translate(-190.30px,0) scaleX(0.898)">1.7</span>
<span class="r" style="top:372px;transform:translate(-142.50px,0) scaleX(0.898)">19.0</span>
<span class="r" style="top:372px;transform:translate(-111.50px,0) scaleX(0.898)">2.7</span>
<span class="r" style="top:372px;transform:translate(-63.80px,0) scaleX(0.898)">13.9</span>
<span class="r" style="top:372px;transform:translate(-32.50px,0) scaleX(0.898)">2.0</span>
</div>
<div role="row">
<span style="top:383px;transform:translate(19.60px,0) scaleX(0.898)">Utah</span>
<span class="r" style="top:383px;transform:translate(-479.70px,0) scaleX(0.898)">9.7</span>
<span class="r" style="top:383px;transform:translate(-451.40px,0) scaleX(0.898)">4.1</span>
<span class="r" style="top:383px;transform:translate(-404.50px,0) scaleX(0.898)">12.8</span>
<span class="r" style="top:383px;transform:translate(-375.40px,0) scaleX(0.898)">3.8</span>
<span class="r" style="top:383px;transform:translate(-328.40px,0) scaleX(0.898)">11.3</span>
<span class="r" style="top:383px;transform:translate(-294.30px,0) scaleX(0.898)">3.7</span>
<span class="r" style="top:383px;transform:translate(-221.40px,0) scaleX(0.898)">5.6</span>
<span class="r" style="top:383px;transform:translate(-190.30px,0) scaleX(0.898)">2.6</span>
<span class="r" style="top:383px;transform:translate(-142.50px,0) scaleX(0.898)">8.3</span>
<span class="r" style="top:383px;transform:translate(-111.50px,0) scaleX(0.898)">3.2</span>
<span class="r" style="top:383px;transform:translate(-63.80px,0) scaleX(0.898)">7.0</span>
<span class="r" style="top:383px;transform:translate(-32.50px,0) scaleX(0.898)">2.5</span>
</div>
<div role="row">
<span style="top:394px;transform:translate(19.60px,0) scaleX(0.898)">Vermont</span>
<span class="r" style="top:394px;transform:translate(-479.70px,0) scaleX(0.898)">13.1</span>
<span class="r" style="top:394px;transform:translate(-451.40px,0) scaleX(0.898)">0.9</span>
<span class="r" style="top:394px;transform:translate(-404.50px,0) scaleX(0.898)">14.9</span>
<span class="r" style="top:394px;transform:translate(-375.40px,0) scaleX(0.898)">0.8</span>
<span class="r" style="top:394px;transform:translate(-328.40px,0) scaleX(0.898)">14.1</span>
<span class="r" style="top:394px;transform:translate(-294.30px,0) scaleX(0.898)">0.7</span>
<span class="r" style="top:394px;transform:translate(-221.40px,0) scaleX(0.898)">7.2</span>
<span class="r" style="top:394px;transform:translate(-190.30px,0) scaleX(0.898)">1.3</span>
<span class="r" style="top:394px;transform:translate(-142.50px,0) scaleX(0.898)">14.2</span>
<span class="r" style="top:394px;transform:translate(-111.50px,0) scaleX(0.898)">2.6</span>
<span class="r" style="top:394px;transform:translate(-63.80px,0) scaleX(0.898)">10.8</span>
<span class="r" style="top:394px;transform:translate(-32.50px,0) scaleX(0.898)">1.8</span>
</div>
<div role="row">
<span style="top:405px;transform:translate(19.60px,0) scaleX(0.898)">West Virginia</span>
<span class="r" style="top:405px;transform:translate(-479.70px,0) scaleX(0.898)">14.7</span>
<span class="r" style="top:405px;transform:translate(-451.40px,0) scaleX(0.898)">3.3</span>
<span class="r" style="top:405px;transform:translate(-404.50px,0) scaleX(0.898)">15.5</span>
<span class="r" style="top:405px;transform:translate(-375.40px,0) scaleX(0.898)">2.9</span>
<span class="r" style="top:405px;transform:translate(-328.40px,0) scaleX(0.898)">15.1</span>
<span class="r" style="top:405px;transform:translate(-294.30px,0) scaleX(0.898)">1.5</span>
<span class="r" style="top:405px;transform:translate(-221.40px,0) scaleX(0.898)">7.4</span>
<span class="r" style="top:405px;transform:translate(-190.30px,0) scaleX(0.898)">2.1</span>
<span class="r" style="top:405px;transform:translate(-142.50px,0) scaleX(0.898)">19.5</span>
<span class="r" style="top:405px;transform:translate(-111.50px,0) scaleX(0.898)">5.9</span>
<span class="r" style="top:405px;transform:translate(-63.80px,0) scaleX(0.898)">13.7</span>
<span class="r" style="top:405px;transform:translate(-32.50px,0) scaleX(0.898)">3.5</span>
</div>
<div role="row">
<span style="top:416px;transform:translate(19.60px,0) scaleX(0.898)">Wisconsin</span>
<span class="r" style="top:416px;transform:translate(-479.70px,0) scaleX(0.898)">12.8</span>
<span class="r" style="top:416px;transform:translate(-451.40px,0) scaleX(0.898)">2.6</span>
<span class="r" style="top:416px;transform:translate(-404.50px,0) scaleX(0.898)">14.5</span>
<span class="r" style="top:416px;transform:translate(-375.40px,0) scaleX(0.898)">1.6</span>
<span class="r" style="top:416px;transform:translate(-328.40px,0) scaleX(0.898)">13.7</span>
<span class="r" style="top:416px;transform:translate(-294.30px,0) scaleX(0.898)">1.6</span>
<span class="r" style="top:416px;transform:translate(-221.40px,0) scaleX(0.898)">6.8</span>
<span class="r" style="top:416px;transform:translate(-190.30px,0) scaleX(0.898)">2.0</span>
<span class="r" style="top:416px;transform:translate(-142.50px,0) scaleX(0.898)">13.7</span>
<span class="r" style="top:416px;transform:translate(-111.50px,0) scaleX(0.898)">2.7</span>
<span class="r" style="top:416px;transform:translate(-63.80px,0) scaleX(0.898)">10.4</span>
<span class="r" style="top:416px;transform:translate(-32.50px,0) scaleX(0.898)">1.4</span>
</div>
<div role="row">
<span style="top:427px;transform:translate(19.60px,0) scaleX(0.898)">Wyoming</span>
<span class="r" style="top:427px;transform:translate(-479.70px,0) scaleX(0.898)">10.4</span>
<span class="r" style="top:427px;transform:translate(-451.40px,0) scaleX(0.898)">2.8</span>
<span class="r" style="top:427px;transform:translate(-404.50px,0) scaleX(0.898)">13.0</span>
<span class="r" style="top:427px;transform:translate(-375.40px,0) scaleX(0.898)">2.5</span>
<span class="r" style="top:427px;transform:translate(-328.40px,0) scaleX(0.898)">11.7</span>
<span class="r" style="top:427px;transform:translate(-294.30px,0) scaleX(0.898)">2.0</span>
<span class="r" style="top:427px;transform:translate(-221.40px,0) scaleX(0.898)">3.8</span>
<span class="r" style="top:427px;transform:translate(-190.30px,0) scaleX(0.898)">1.2</span>
<span class="r" style="top:427px;transform:translate(-142.50px,0) scaleX(0.898)">10.5</span>
<span class="r" style="top:427px;transform:translate(-111.50px,0) scaleX(0.898)">2.5</span>
<span class="r" style="top:427px;transform:translate(-63.80px,0) scaleX(0.898)">7.2</span>
<span class="r" style="top:427px;transform:translate(-32.50px,0) scaleX(0.898)">1.5</span>
</div>
<div role="row">
<span class="b" style="top:439px;transform:translate(11.60px,0) scaleX(0.898);letter-spacing:0.15px">Median</span>
<span class="r" style="top:439px;transform:translate(-479.70px,0) scaleX(0.898)">13.7</span>
<span class="r" style="top:439px;transform:translate(-404.50px,0) scaleX(0.898)">14.9</span>
<span class="r" style="top:439px;transform:translate(-328.40px,0) scaleX(0.898)">14.5</span>
<span class="r" style="top:439px;transform:translate(-221.40px,0) scaleX(0.898)">7.4</span>
<span class="r" style="top:439px;transform:translate(-142.50px,0) scaleX(0.898)">15.6</span>
<span class="r" style="top:439px;transform:translate(-63.80px,0) scaleX(0.898)">11.1</span>
</div>
<div role="row">
<span class="b" style="top:450px;transform:translate(11.60px,0) scaleX(0.898)">Range</span>
<span class="c" style="top:450px;transform:translate(177.00px,0) scaleX(0.898)">9.7–17.0</span>
<span class="c" style="top:450px;transform:translate(253.20px,0) scaleX(0.898)">11.4–17.2</span>
<span class="c" style="top:450px;transform:translate(329.00px,0) scaleX(0.898)">11.0–16.7</span>
<span class="c" style="top:450px;transform:translate(435.30px,0) scaleX(0.898)">3.8–11.1</span>
<span class="c" style="top:450px;transform:translate(514.60px,0) scaleX(0.898)">8.3–20.7</span>
<span class="c" style="top:450px;transform:translate(593.20px,0) scaleX(0.898)">7.0–15.7</span>
</div>
<div role="row">
<span class="b" style="top:461px;transform:translate(11.60px,0) scaleX(0.898);letter-spacing:0.28px">Local Surveys<sup>††</sup></span>
</div>
<div role="row">
<span style="top:472px;transform:translate(19.60px,0) scaleX(0.898)">Boston PS, MA</span>
<span class="r" style="top:472px;transform:translate(-479.70px,0) scaleX(0.898)">17.2</span>
<span class="r" style="top:472px;transform:translate(-451.40px,0) scaleX(0.898)">3.2</span>
<span class="r" style="top:472px;transform:translate(-404.50px,0) scaleX(0.898)">18.8</span>
<span class="r" style="top:472px;transform:translate(-375.40px,0) scaleX(0.898)">3.8</span>
<span class="r" style="top:472px;transform:translate(-328.40px,0) scaleX(0.898)">18.0</span>
<span class="r" style="top:472px;transform:translate(-294.30px,0) scaleX(0.898)">2.4</span>
<span class="r" style="top:472px;transform:translate(-221.40px,0) scaleX(0.898)">13.1</span>
<span class="r" style="top:472px;transform:translate(-190.30px,0) scaleX(0.898)">3.4</span>
<span class="r" style="top:472px;transform:translate(-142.50px,0) scaleX(0.898)">15.3</span>
<span class="r" style="top:472px;transform:translate(-111.50px,0) scaleX(0.898)">3.0</span>
<span class="r" style="top:472px;transform:translate(-63.80px,0) scaleX(0.898)">14.2</span>
<span class="r" style="top:472px;transform:translate(-32.50px,0) scaleX(0.898)">2.3</span>
</div>
<div role="row">
<span style="top:483px;transform:translate(19.60px,0) scaleX(0.898)">Broward County PS, FL</span>
<span class="r" style="top:483px;transform:translate(-479.70px,0) scaleX(0.898)">15.2</span>
<span class="r" style="top:483px;transform:translate(-451.40px,0) scaleX(0.898)">2.7</span>
<span class="r" style="top:483px;transform:translate(-404.50px,0) scaleX(0.898)">16.7</span>
<span class="r" style="top:483px;transform:translate(-375.40px,0) scaleX(0.898)">3.0</span>
<span class="r" style="top:483px;transform:translate(-328.40px,0) scaleX(0.898)">16.0</span>
<span class="r" style="top:483px;transform:translate(-294.30px,0) scaleX(0.898)">2.0</span>
<span class="r" style="top:483px;transform:translate(-221.40px,0) scaleX(0.898)">5.9</span>
<span class="r" style="top:483px;transform:translate(-190.30px,0) scaleX(0.898)">1.7</span>
<span class="r" style="top:483px;transform:translate(-142.50px,0) scaleX(0.898)">12.5</span>
<span class="r" style="top:483px;transform:translate(-111.50px,0) scaleX(0.898)">2.5</span>
<span class="r" style="top:483px;transform:translate(-63.80px,0) scaleX(0.898)">9.3</span>
<span class="r" style="top:483px;transform:translate(-32.50px,0) scaleX(0.898)">1.4</span>
</div>
<div role="row">
<span style="top:494px;transform:translate(19.60px,0) scaleX(0.898)">Chicago PS, IL</span>
<span class="r" style="top:494px;transform:translate(-479.70px,0) scaleX(0.898)">19.0</span>
<span class="r" style="top:494px;transform:translate(-451.40px,0) scaleX(0.898)">4.3</span>
<span class="r" style="top:494px;transform:translate(-404.50px,0) scaleX(0.898)">16.8</span>
<span class="r" style="top:494px;transform:translate(-375.40px,0) scaleX(0.898)">3.7</span>
<span class="r" style="top:494px;transform:translate(-328.40px,0) scaleX(0.898)">17.9</span>
<span class="r" style="top:494px;transform:translate(-294.30px,0) scaleX(0.898)">3.0</span>
<span class="r" style="top:494px;transform:translate(-221.40px,0) scaleX(0.898)">11.5</span>
<span class="r" style="top:494px;transform:translate(-190.30px,0) scaleX(0.898)">3.2</span>
<span class="r" style="top:494px;transform:translate(-142.50px,0) scaleX(0.898)">16.3</span>
<span class="r" style="top:494px;transform:translate(-111.50px,0) scaleX(0.898)">3.8</span>
<span class="r" style="top:494px;transform:translate(-63.80px,0) scaleX(0.898)">13.9</span>
<span class="r" style="top:494px;transform:translate(-32.50px,0) scaleX(0.898)">2.6</span>
</div>
<div role="row">
<span style="top:505px;transform:translate(19.60px,0) scaleX(0.898)">Dallas ISD, TX</span>
<span class="r" style="top:505px;transform:translate(-479.70px,0) scaleX(0.898)">21.4</span>
<span class="r" style="top:505px;transform:translate(-451.40px,0) scaleX(0.898)">2.9</span>
<span class="r" style="top:505px;transform:translate(-404.50px,0) scaleX(0.898)">18.3</span>
<span class="r" style="top:505px;transform:translate(-375.40px,0) scaleX(0.898)">3.0</span>
<span class="r" style="top:505px;transform:translate(-328.40px,0) scaleX(0.898)">19.9</span>
<span class="r" style="top:505px;transform:translate(-294.30px,0) scaleX(0.898)">2.1</span>
<span class="r" style="top:505px;transform:translate(-221.40px,0) scaleX(0.898)">13.1</span>
<span class="r" style="top:505px;transform:translate(-190.30px,0) scaleX(0.898)">2.7</span>
<span class="r" style="top:505px;transform:translate(-142.50px,0) scaleX(0.898)">18.7</span>
<span class="r" style="top:505px;transform:translate(-111.50px,0) scaleX(0.898)">3.4</span>
<span class="r" style="top:505px;transform:translate(-63.80px,0) scaleX(0.898)">15.9</span>
<span class="r" style="top:505px;transform:translate(-32.50px,0) scaleX(0.898)">2.0</span>
</div>
<div role="row">
<span style="top:515px;transform:translate(19.60px,0) scaleX(0.898)">DeKalb County PS, GA</span>
<span class="r" style="top:515px;transform:translate(-479.70px,0) scaleX(0.898)">18.7</span>
<span class="r" style="top:515px;transform:translate(-451.40px,0) scaleX(0.898)">2.4</span>
<span class="r" style="top:515px;transform:translate(-404.50px,0) scaleX(0.898)">14.6</span>
<span class="r" style="top:515px;transform:translate(-375.40px,0) scaleX(0.898)">2.3</span>
<span class="r" style="top:515px;transform:translate(-328.40px,0) scaleX(0.898)">16.6</span>
<span class="r" style="top:515px;transform:translate(-294.30px,0) scaleX(0.898)">1.9</span>
<span class="r" style="top:515px;transform:translate(-221.40px,0) scaleX(0.898)">10.0</span>
<span class="r" style="top:515px;transform:translate(-190.30px,0) scaleX(0.898)">2.0</span>
<span class="r" style="top:515px;transform:translate(-142.50px,0) scaleX(0.898)">14.1</span>
<span class="r" style="top:515px;transform:translate(-111.50px,0) scaleX(0.898)">2.2</span>
<span class="r" style="top:515px;transform:translate(-63.80px,0) scaleX(0.898)">12.1</span>
<span class="r" style="top:515px;transform:translate(-32.50px,0) scaleX(0.898)">1.4</span>
</div>
<div role="row">
<span style="top:526px;transform:translate(19.60px,0) scaleX(0.898)">Detroit PS, MI</span>
<span class="r" style="top:526px;transform:translate(-479.70px,0) scaleX(0.898)">22.1</span>
<span class="r" style="top:526px;transform:translate(-451.40px,0) scaleX(0.898)">3.5</span>
<span class="r" style="top:526px;transform:translate(-404.50px,0) scaleX(0.898)">16.7</span>
<span class="r" style="top:526px;transform:translate(-375.40px,0) scaleX(0.898)">2.8</span>
<span class="r" style="top:526px;transform:translate(-328.40px,0) scaleX(0.898)">19.5</span>
<span class="r" style="top:526px;transform:translate(-294.30px,0) scaleX(0.898)">2.1</span>
<span class="r" style="top:526px;transform:translate(-221.40px,0) scaleX(0.898)">18.2</span>
<span class="r" style="top:526px;transform:translate(-190.30px,0) scaleX(0.898)">3.3</span>
<span class="r" style="top:526px;transform:translate(-142.50px,0) scaleX(0.898)">21.6</span>
<span class="r" style="top:526px;transform:translate(-111.50px,0) scaleX(0.898)">4.2</span>
<span class="r" style="top:526px;transform:translate(-63.80px,0) scaleX(0.898)">19.9</span>
<span class="r" style="top:526px;transform:translate(-32.50px,0) scaleX(0.898)">2.7</span>
</div>
<div role="row">
<span style="top:537px;transform:translate(19.60px,0) scaleX(0.898)">District of Columbia PS</span>
<span class="r" style="top:537px;transform:translate(-479.70px,0) scaleX(0.898)">17.3</span>
<span class="r" style="top:537px;transform:translate(-451.40px,0) scaleX(0.898)">2.5</span>
<span class="r" style="top:537px;transform:translate(-404.50px,0) scaleX(0.898)">16.3</span>
<span class="r" style="top:537px;transform:translate(-375.40px,0) scaleX(0.898)">2.4</span>
<span class="r" style="top:537px;transform:translate(-328.40px,0) scaleX(0.898)">16.8</span>
<span class="r" style="top:537px;transform:translate(-294.30px,0) scaleX(0.898)">1.8</span>
<span class="r" style="top:537px;transform:translate(-221.40px,0) scaleX(0.898)">11.5</span>
<span class="r" style="top:537px;transform:translate(-190.30px,0) scaleX(0.898)">2.1</span>
<span class="r" style="top:537px;transform:translate(-142.50px,0) scaleX(0.898)">15.5</span>
<span class="r" style="top:537px;transform:translate(-111.50px,0) scaleX(0.898)">3.0</span>
<span class="r" style="top:537px;transform:translate(-63.80px,0) scaleX(0.898)">13.5</span>
<span class="r" style="top:537px;transform:translate(-32.50px,0) scaleX(0.898)">1.9</span>
</div>
<div role="row">
<span style="top:548px;transform:translate(19.60px,0) scaleX(0.898)">Los Angeles USD, CA</span>
<span class="r" style="top:548px;transform:translate(-479.70px,0) scaleX(0.898)">15.9</span>
<span class="r" style="top:548px;transform:translate(-451.40px,0) scaleX(0.898)">2.7</span>
<span class="r" style="top:548px;transform:translate(-404.50px,0) scaleX(0.898)">18.0</span>
<span class="r" style="top:548px;transform:translate(-375.40px,0) scaleX(0.898)">3.5</span>
<span class="r" style="top:548px;transform:translate(-328.40px,0) scaleX(0.898)">17.0</span>
<span class="r" style="top:548px;transform:translate(-294.30px,0) scaleX(0.898)">3.0</span>
<span class="r" style="top:548px;transform:translate(-221.40px,0) scaleX(0.898)">9.5</span>
<span class="r" style="top:548px;transform:translate(-190.30px,0) scaleX(0.898)">2.8</span>
<span class="r" style="top:548px;transform:translate(-142.50px,0) scaleX(0.898)">21.8</span>
<span class="r" style="top:548px;transform:translate(-111.50px,0) scaleX(0.898)">6.4</span>
<span class="r" style="top:548px;transform:translate(-63.80px,0) scaleX(0.898)">15.8</span>
<span class="r" style="top:548px;transform:translate(-32.50px,0) scaleX(0.898)">3.3</span>
</div>
<div role="row">
<span style="top:559px;transform:translate(19.60px,0) scaleX(0.898)">Memphis PS, TN</span>
<span class="r" style="top:559px;transform:translate(-479.70px,0) scaleX(0.898)">22.3</span>
<span class="r" style="top:559px;transform:translate(-451.40px,0) scaleX(0.898)">2.3</span>
<span class="r" style="top:559px;transform:translate(-404.50px,0) scaleX(0.898)">15.1</span>
<span class="r" style="top:559px;transform:translate(-375.40px,0) scaleX(0.898)">3.0</span>
<span class="r" style="top:559px;transform:translate(-328.40px,0) scaleX(0.898)">18.6</span>
<span class="r" style="top:559px;transform:translate(-294.30px,0) scaleX(0.898)">2.1</span>
<span class="r" style="top:559px;transform:translate(-221.40px,0) scaleX(0.898)">16.9</span>
<span class="r" style="top:559px;transform:translate(-190.30px,0) scaleX(0.898)">2.5</span>
<span class="r" style="top:559px;transform:translate(-142.50px,0) scaleX(0.898)">14.6</span>
<span class="r" style="top:559px;transform:translate(-111.50px,0) scaleX(0.898)">2.3</span>
<span class="r" style="top:559px;transform:translate(-63.80px,0) scaleX(0.898)">15.8</span>
<span class="r" style="top:559px;transform:translate(-32.50px,0) scaleX(0.898)">1.8</span>
</div>
<div role="row">
<span style="top:570px;transform:translate(19.60px,0) scaleX(0.898)">Miami-Dade County PS, FL</span>
<span class="r" style="top:570px;transform:translate(-479.70px,0) scaleX(0.898)">16.1</span>
<span class="r" style="top:570px;transform:translate(-451.40px,0) scaleX(0.898)">3.1</span>
<span class="r" style="top:570px;transform:translate(-404.50px,0) scaleX(0.898)">14.6</span>
<span class="r" style="top:570px;transform:translate(-375.40px,0) scaleX(0.898)">2.7</span>
<span class="r" style="top:570px;transform:translate(-328.40px,0) scaleX(0.898)">15.3</span>
<span class="r" style="top:570px;transform:translate(-294.30px,0) scaleX(0.898)">1.9</span>
<span class="r" style="top:570px;transform:translate(-221.40px,0) scaleX(0.898)">8.6</span>
<span class="r" style="top:570px;transform:translate(-190.30px,0) scaleX(0.898)">2.1</span>
<span class="r" style="top:570px;transform:translate(-142.50px,0) scaleX(0.898)">17.0</span>
<span class="r" style="top:570px;transform:translate(-111.50px,0) scaleX(0.898)">3.2</span>
<span class="r" style="top:570px;transform:translate(-63.80px,0) scaleX(0.898)">12.9</span>
<span class="r" style="top:570px;transform:translate(-32.50px,0) scaleX(0.898)">2.0</span>
</div>
<div role="row">
<span style="top:581px;transform:translate(19.60px,0) scaleX(0.898)">Milwaukee PS, WI</span>
<span class="r" style="top:581px;transform:translate(-479.70px,0) scaleX(0.898)">22.0</span>
<span class="r" style="top:581px;transform:translate(-451.40px,0) scaleX(0.898)">3.6</span>
<span class="r" style="top:581px;transform:translate(-404.50px,0) scaleX(0.898)">16.6</span>
<span class="r" style="top:581px;transform:translate(-375.40px,0) scaleX(0.898)">3.3</span>
<span class="r" style="top:581px;transform:translate(-328.40px,0) scaleX(0.898)">19.3</span>
<span class="r" style="top:581px;transform:translate(-294.30px,0) scaleX(0.898)">2.2</span>
<span class="r" style="top:581px;transform:translate(-221.40px,0) scaleX(0.898)">15.3</span>
<span class="r" style="top:581px;transform:translate(-190.30px,0) scaleX(0.898)">3.2</span>
<span class="r" style="top:581px;transform:translate(-142.50px,0) scaleX(0.898)">17.0</span>
<span class="r" style="top:581px;transform:translate(-111.50px,0) scaleX(0.898)">3.1</span>
<span class="r" style="top:581px;transform:translate(-63.80px,0) scaleX(0.898)">16.2</span>
<span class="r" style="top:581px;transform:translate(-32.50px,0) scaleX(0.898)">2.1</span>
</div>
<div role="row">
<span style="top:592px;transform:translate(19.60px,0) scaleX(0.898)">New Orleans PS, LA</span>
<span class="r" style="top:592px;transform:translate(-479.70px,0) scaleX(0.898)">15.4</span>
<span class="r" style="top:592px;transform:translate(-451.40px,0) scaleX(0.898)">2.7</span>
<span class="r" style="top:592px;transform:translate(-404.50px,0) scaleX(0.898)">21.2</span>
<span class="r" style="top:592px;transform:translate(-375.40px,0) scaleX(0.898)">3.3</span>
<span class="r" style="top:592px;transform:translate(-328.40px,0) scaleX(0.898)">18.2</span>
<span class="r" style="top:592px;transform:translate(-294.30px,0) scaleX(0.898)">2.1</span>
<span class="r" style="top:592px;transform:translate(-221.40px,0) scaleX(0.898)">13.7</span>
<span class="r" style="top:592px;transform:translate(-190.30px,0) scaleX(0.898)">2.9</span>
<span class="r" style="top:592px;transform:translate(-142.50px,0) scaleX(0.898)">14.0</span>
<span class="r" style="top:592px;transform:translate(-111.50px,0) scaleX(0.898)">3.0</span>
<span class="r" style="top:592px;transform:translate(-63.80px,0) scaleX(0.898)">13.8</span>
<span class="r" style="top:592px;transform:translate(-32.50px,0) scaleX(0.898)">2.2</span>
</div>
<div role="row">
<span style="top:602px;transform:translate(19.60px,0) scaleX(0.898)">New York City PS, NY</span>
<span class="r" style="top:602px;transform:translate(-479.70px,0) scaleX(0.898)">15.6</span>
<span class="r" style="top:602px;transform:translate(-451.40px,0) scaleX(0.898)">1.9</span>
<span class="r" style="top:602px;transform:translate(-404.50px,0) scaleX(0.898)">16.7</span>
<span class="r" style="top:602px;transform:translate(-375.40px,0) scaleX(0.898)">1.5</span>
<span class="r" style="top:602px;transform:translate(-328.40px,0) scaleX(0.898)">16.2</span>
<span class="r" style="top:602px;transform:translate(-294.30px,0) scaleX(0.898)">1.2</span>
<span class="r" style="top:602px;transform:translate(-221.40px,0) scaleX(0.898)">9.6</span>
<span class="r" style="top:602px;transform:translate(-190.30px,0) scaleX(0.898)">1.3</span>
<span class="r" style="top:602px;transform:translate(-142.50px,0) scaleX(0.898)">17.2</span>
<span class="r" style="top:602px;transform:translate(-111.50px,0) scaleX(0.898)">2.0</span>
<span class="r" style="top:602px;transform:translate(-63.80px,0) scaleX(0.898)">13.3</span>
<span class="r" style="top:602px;transform:translate(-32.50px,0) scaleX(0.898)">1.2</span>
</div>
<div role="row">
<span style="top:613px;transform:translate(19.60px,0) scaleX(0.898)">Orange County PS, FL</span>
<span class="r" style="top:613px;transform:translate(-479.70px,0) scaleX(0.898)">14.4</span>
<span class="r" style="top:613px;transform:translate(-451.40px,0) scaleX(0.898)">4.9</span>
<span class="r" style="top:613px;transform:translate(-404.50px,0) scaleX(0.898)">13.9</span>
<span class="r" style="top:613px;transform:translate(-375.40px,0) scaleX(0.898)">0.9</span>
<span class="r" style="top:613px;transform:translate(-328.40px,0) scaleX(0.898)">14.2</span>
<span class="r" style="top:613px;transform:translate(-294.30px,0) scaleX(0.898)">2.0</span>
<span class="r" style="top:613px;transform:translate(-221.40px,0) scaleX(0.898)">5.5</span>
<span class="r" style="top:613px;transform:translate(-190.30px,0) scaleX(0.898)">2.2</span>
<span class="r" style="top:613px;transform:translate(-142.50px,0) scaleX(0.898)">15.9</span>
<span class="r" style="top:613px;transform:translate(-111.50px,0) scaleX(0.898)">3.5</span>
<span class="r" style="top:613px;transform:translate(-63.80px,0) scaleX(0.898)">10.9</span>
<span class="r" style="top:613px;transform:translate(-32.50px,0) scaleX(0.898)">2.6</span>
</div>
<div role="row">
<span style="top:624px;transform:translate(19.60px,0) scaleX(0.898)">Palm Beach County SD, FL</span>
<span class="r" style="top:624px;transform:translate(-479.70px,0) scaleX(0.898)">12.9</span>
<span class="r" style="top:624px;transform:translate(-451.40px,0) scaleX(0.898)">2.3</span>
<span class="r" style="top:624px;transform:translate(-404.50px,0) scaleX(0.898)">16.9</span>
<span class="r" style="top:624px;transform:translate(-375.40px,0) scaleX(0.898)">2.9</span>
<span class="r" style="top:624px;transform:translate(-328.40px,0) scaleX(0.898)">14.9</span>
<span class="r" style="top:624px;transform:translate(-294.30px,0) scaleX(0.898)">1.9</span>
<span class="r" style="top:624px;transform:translate(-221.40px,0) scaleX(0.898)">7.1</span>
<span class="r" style="top:624px;transform:translate(-190.30px,0) scaleX(0.898)">1.8</span>
<span class="r" style="top:624px;transform:translate(-142.50px,0) scaleX(0.898)">15.4</span>
<span class="r" style="top:624px;transform:translate(-111.50px,0) scaleX(0.898)">2.6</span>
<span class="r" style="top:624px;transform:translate(-63.80px,0) scaleX(0.898)">11.2</span>
<span class="r" style="top:624px;transform:translate(-32.50px,0) scaleX(0.898)">1.5</span>
</div>
<div role="row">
<span style="top:635px;transform:translate(19.60px,0) scaleX(0.898)">Philadelphia SD, PA</span>
<span class="r" style="top:635px;transform:translate(-479.70px,0) scaleX(0.898)">21.4</span>
<span class="r" style="top:635px;transform:translate(-451.40px,0) scaleX(0.898)">3.8</span>
<span class="r" style="top:635px;transform:translate(-404.50px,0) scaleX(0.898)">15.6</span>
<span class="r" style="top:635px;transform:translate(-375.40px,0) scaleX(0.898)">3.7</span>
<span class="r" style="top:635px;transform:translate(-328.40px,0) scaleX(0.898)">18.6</span>
<span class="r" style="top:635px;transform:translate(-294.30px,0) scaleX(0.898)">2.5</span>
<span class="r" style="top:635px;transform:translate(-221.40px,0) scaleX(0.898)">12.8</span>
<span class="r" style="top:635px;transform:translate(-190.30px,0) scaleX(0.898)">2.6</span>
<span class="r" style="top:635px;transform:translate(-142.50px,0) scaleX(0.898)">17.3</span>
<span class="r" style="top:635px;transform:translate(-111.50px,0) scaleX(0.898)">3.4</span>
<span class="r" style="top:635px;transform:translate(-63.80px,0) scaleX(0.898)">15.1</span>
<span class="r" style="top:635px;transform:translate(-32.50px,0) scaleX(0.898)">2.0</span>
</div>
<div role="row">
<span style="top:646px;transform:translate(19.60px,0) scaleX(0.898)">San Bernardino USD, CA</span>
<span class="r" style="top:646px;transform:translate(-479.70px,0) scaleX(0.898)">20.7</span>
<span class="r" style="top:646px;transform:translate(-451.40px,0) scaleX(0.898)">3.1</span>
<span class="r" style="top:646px;transform:translate(-404.50px,0) scaleX(0.898)">20.5</span>
<span class="r" style="top:646px;transform:translate(-375.40px,0) scaleX(0.898)">3.3</span>
<span class="r" style="top:646px;transform:translate(-328.40px,0) scaleX(0.898)">20.6</span>
<span class="r" style="top:646px;transform:translate(-294.30px,0) scaleX(0.898)">2.2</span>
<span class="r" style="top:646px;transform:translate(-221.40px,0) scaleX(0.898)">9.6</span>
<span class="r" style="top:646px;transform:translate(-190.30px,0) scaleX(0.898)">2.4</span>
<span class="r" style="top:646px;transform:translate(-142.50px,0) scaleX(0.898)">21.1</span>
<span class="r" style="top:646px;transform:translate(-111.50px,0) scaleX(0.898)">3.4</span>
<span class="r" style="top:646px;transform:translate(-63.80px,0) scaleX(0.898)">15.4</span>
<span class="r" style="top:646px;transform:translate(-32.50px,0) scaleX(0.898)">2.0</span>
</div>
<div role="row">
<span style="top:657px;transform:translate(19.60px,0) scaleX(0.898)">San Diego USD, CA</span>
<span class="r" style="top:657px;transform:translate(-479.70px,0) scaleX(0.898)">14.4</span>
<span class="r" style="top:657px;transform:translate(-451.40px,0) scaleX(0.898)">3.0</span>
<span class="r" style="top:657px;transform:translate(-404.50px,0) scaleX(0.898)">16.9</span>
<span class="r" style="top:657px;transform:translate(-375.40px,0) scaleX(0.898)">3.1</span>
<span class="r" style="top:657px;transform:translate(-328.40px,0) scaleX(0.898)">15.7</span>
<span class="r" style="top:657px;transform:translate(-294.30px,0) scaleX(0.898)">2.0</span>
<span class="r" style="top:657px;transform:translate(-221.40px,0) scaleX(0.898)">5.7</span>
<span class="r" style="top:657px;transform:translate(-190.30px,0) scaleX(0.898)">2.0</span>
<span class="r" style="top:657px;transform:translate(-142.50px,0) scaleX(0.898)">13.4</span>
<span class="r" style="top:657px;transform:translate(-111.50px,0) scaleX(0.898)">2.5</span>
<span class="r" style="top:657px;transform:translate(-63.80px,0) scaleX(0.898)">9.6</span>
<span class="r" style="top:657px;transform:translate(-32.50px,0) scaleX(0.898)">1.7</span>
</div>
<div role="row">
<span class="b" style="top:669px;transform:translate(11.60px,0) scaleX(0.898);letter-spacing:0.15px">Median</span>
<span class="r" style="top:669px;transform:translate(-479.70px,0) scaleX(0.898)">17.2</span>
<span class="r" style="top:669px;transform:translate(-404.50px,0) scaleX(0.898)">16.7</span>
<span class="r" style="top:669px;transform:translate(-328.40px,0) scaleX(0.898)">17.4</span>
<span class="r" style="top:669px;transform:translate(-221.40px,0) scaleX(0.898)">10.8</span>
<span class="r" style="top:669px;transform:translate(-142.50px,0) scaleX(0.898)">16.1</span>
<span class="r" style="top:669px;transform:translate(-63.80px,0) scaleX(0.898)">13.8</span>
</div>
<div role="row">
<span class="b" style="top:680px;transform:translate(11.60px,0) scaleX(0.898)">Range</span>
<span class="c" style="top:680px;transform:translate(177.00px,0) scaleX(0.898)">12.9-22.3</span>
<span class="c" style="top:680px;transform:translate(253.20px,0) scaleX(0.898)">13.9-21.2</span>
<span class="c" style="top:680px;transform:translate(329.00px,0) scaleX(0.898)">14.2-20.6</span>
<span class="c" style="top:680px;transform:translate(435.30px,0) scaleX(0.898)">5.5-18.2</span>
<span class="c" style="top:680px;transform:translate(514.60px,0) scaleX(0.898)">12.5-21.8</span>
<span class="c" style="top:680px;transform:translate(593.20px,0) scaleX(0.898)">9.3-19.9</span>
</div>
</div>
<div class="notes">
<span class="s r" style="top:695px;transform:translate(-685.40px,0) scaleX(0.888)"><sup class="a">*</sup></span>
<span class="f" style="top:695px;transform:translate(22.50px,0) scaleX(0.8872)">Students who were <u>&gt;</u>85<sup>th</sup> percentile but &lt;95<sup>th</sup> percentile for body mass index, by age and sex, based on reference data.</span>
<span class="s r" style="top:704px;transform:translate(-685.40px,0) scaleX(0.888)"><sup class="k">†</sup></span>
<span class="f" style="top:704px;transform:translate(22.50px,0) scaleX(0.8852)">Students who were <u>&gt;</u>95<sup>th</sup> percentile for body mass index, by age and sex, based on reference data.</span>
<span class="s r" style="top:713px;transform:translate(-685.40px,0) scaleX(0.888)"><sup class="k">§</sup></span>
<span class="f" style="top:713px;transform:translate(22.50px,0) scaleX(0.882)">95% confidence interval.</span>
<span class="s r" style="top:722px;transform:translate(-685.40px,0) scaleX(0.888)"><sup class="k">¶</sup></span>
<span class="f" style="top:722px;transform:translate(22.50px,0) scaleX(0.858)">Not available.</span>
<span class="s r" style="top:730px;transform:translate(-685.40px,0) scaleX(0.888)"><sup class="a">**</sup></span>
<span class="f" style="top:730px;transform:translate(22.50px,0) scaleX(0.886)">Survey did not include students from one of the state’s large school districts.</span>
<span class="s r" style="top:740px;transform:translate(-686.40px,0) scaleX(0.888)"><sup class="k">††</sup></span>
<span class="f" style="top:740px;transform:translate(20.00px,0) scaleX(0.8975)">PS = public school, SD = school district, ISD = independent school district, USD = unified school district.</span>
</div>
</body>
</html>
